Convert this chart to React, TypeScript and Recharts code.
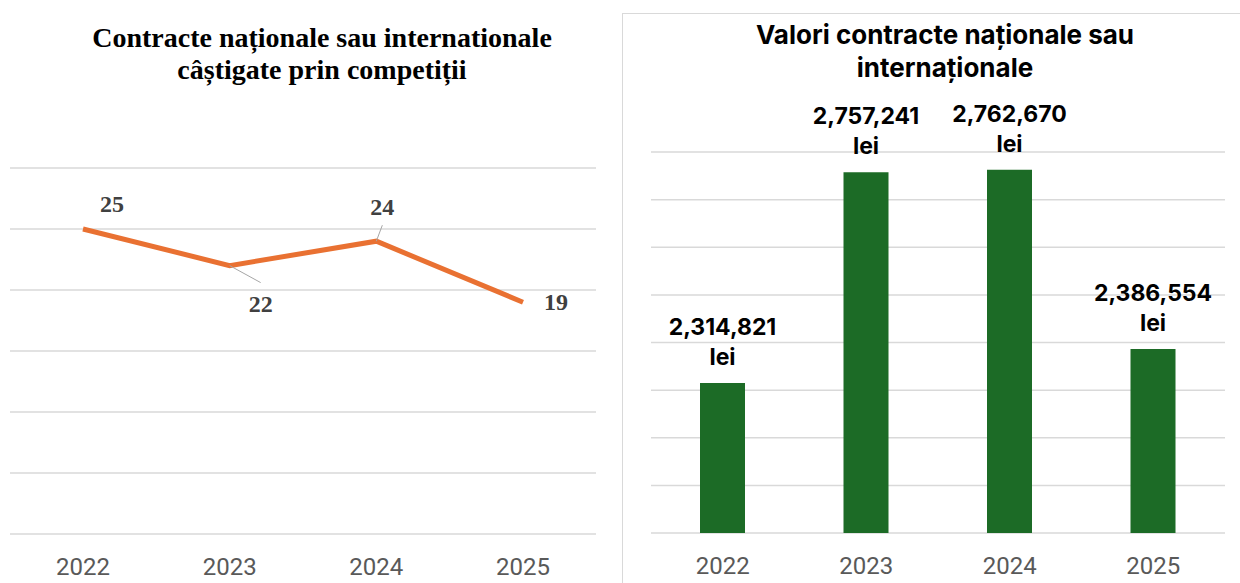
import React from 'react';
import {
  LineChart,
  Line,
  BarChart,
  Bar,
  XAxis,
  YAxis,
  CartesianGrid,
  LabelList
} from 'recharts';

const years = ['2022', '2023', '2024', '2025'];
const contractCounts = [25, 22, 24, 19];
const contractValues = [2314821, 2757241, 2762670, 2386554];
const countTicks = [0, 5, 10, 15, 20, 25, 30];
const valueTicks = [2000000, 2100000, 2200000, 2300000, 2400000, 2500000, 2600000, 2700000, 2800000];

// label placement for the line chart (offset from the point), plus leader lines
const countLabelOffsets = [
  { dx: 29, dy: -25 },
  { dx: 31, dy: 38 },
  { dx: 6, dy: -34 },
  { dx: 33, dy: 0 }
];
const countLeaders = [null, { dx: 31, dy: 17 }, { dx: 6, dy: -16 }, null];

const lineData = years.map((year, i) => ({ year, count: contractCounts[i] }));
const barData = years.map((year, i) => ({ year, value: contractValues[i] }));

const gridColor = '#d9d9d9';
const tickStyle = { fontFamily: 'Roboto', fontSize: 24, fill: '#595959' };

const CountLabel = (props: any) => {
  const { x, y, value, index } = props;
  const off = countLabelOffsets[index];
  const leader = countLeaders[index];
  return (
    <g>
      {leader && (
        <line x1={x} y1={y} x2={x + leader.dx} y2={y + leader.dy} stroke="#a6a6a6" strokeWidth={1} />
      )}
      <text
        x={x + off.dx}
        y={y + off.dy}
        textAnchor="middle"
        dominantBaseline="central"
        fontFamily="'Liberation Serif', serif"
        fontWeight="bold"
        fontSize={24}
        fill="#404040"
      >
        {value}
      </text>
    </g>
  );
};

const ValueLabel = (props: any) => {
  const { x, y, width, value } = props;
  const cx = x + width / 2;
  return (
    <g fontFamily="Inter" fontWeight="bold" fontSize={23} fill="#000">
      <text x={cx} y={y - 56} textAnchor="middle" dominantBaseline="central">
        {Number(value).toLocaleString('en-US')}
      </text>
      <text x={cx} y={y - 26} textAnchor="middle" dominantBaseline="central">
        lei
      </text>
    </g>
  );
};

export default function App() {
  return (
    <div
      style={{
        position: 'absolute',
        left: 0,
        top: 0,
        width: 1240,
        height: 583,
        overflow: 'hidden',
        background: '#fff'
      }}
    >
      {/* left: line chart */}
      <div style={{ position: 'absolute', left: 0, top: 0, width: 620, height: 583 }}>
        <div
          style={{
            position: 'absolute',
            left: 0,
            top: 22,
            width: 644,
            textAlign: 'center',
            fontFamily: "'Liberation Serif', serif",
            fontWeight: 'bold',
            fontSize: 28,
            lineHeight: '32px',
            color: '#000'
          }}
        >
          Contracte naționale sau internationale
          <br />
          câștigate prin competiții
        </div>
        <LineChart width={620} height={583} data={lineData} margin={{ top: 168, right: 24, bottom: 9, left: 10 }}>
          <CartesianGrid vertical={false} stroke={gridColor} strokeWidth={1.5} />
          <XAxis
            dataKey="year"
            axisLine={false}
            tickLine={false}
            height={40}
            tickMargin={18}
            padding={{ left: 73, right: 73 }}
            tick={tickStyle}
          />
          <YAxis hide domain={[0, 30]} ticks={countTicks} />
          <Line
            dataKey="count"
            stroke="#E97132"
            strokeWidth={5}
            dot={false}
            isAnimationActive={false}
          >
            <LabelList dataKey="count" content={CountLabel} />
          </Line>
        </LineChart>
      </div>

      {/* right: bar chart */}
      <div
        style={{
          position: 'absolute',
          left: 622,
          top: 13,
          width: 640,
          height: 600,
          border: '1.5px solid #d9d9d9',
          boxSizing: 'border-box'
        }}
      />
      <div style={{ position: 'absolute', left: 623, top: 14, width: 617, height: 569 }}>
        <div
          style={{
            position: 'absolute',
            left: 0,
            top: 4,
            width: 644,
            textAlign: 'center',
            fontFamily: 'Inter',
            fontWeight: 'bold',
            fontSize: 26,
            lineHeight: '33px',
            color: '#000'
          }}
        >
          Valori contracte naționale sau
          <br />
          internaționale
        </div>
        <BarChart width={617} height={569} data={barData} margin={{ top: 138, right: 15, bottom: 10, left: 28 }}>
          <CartesianGrid vertical={false} stroke={gridColor} strokeWidth={1.5} />
          <XAxis
            dataKey="year"
            axisLine={false}
            tickLine={false}
            height={40}
            tickMargin={18}
            tick={tickStyle}
          />
          <YAxis hide domain={[2000000, 2800000]} ticks={valueTicks} allowDataOverflow />
          <Bar dataKey="value" fill="#1C6B26" barSize={45} isAnimationActive={false}>
            <LabelList dataKey="value" content={ValueLabel} />
          </Bar>
        </BarChart>
      </div>
    </div>
  );
}
